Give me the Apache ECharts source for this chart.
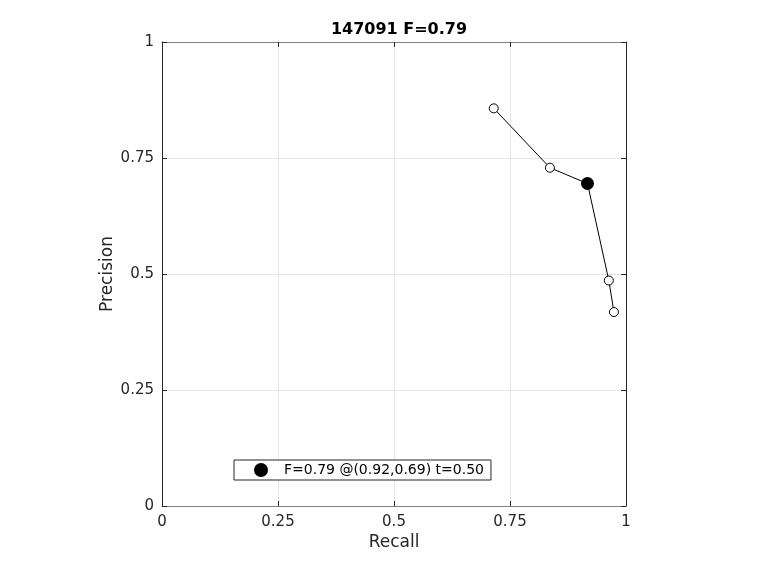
<!DOCTYPE html>
<html>
<head>
<meta charset="utf-8">
<script src="https://cdn.jsdelivr.net/npm/echarts@6/dist/echarts.min.js"></script>
<style>
  html, body { margin: 0; padding: 0; background: #fff; }
  #chart { width: 760px; height: 570px; }
</style>
</head>
<body>
<div id="chart"></div>
<script>
// PR curve points
const recall = [0.715, 0.836, 0.917, 0.963, 0.974];
const precision = [0.857, 0.729, 0.695, 0.486, 0.418];
// best F point
const bestPoint = [0.917, 0.695];
const bestLabel = "F=0.79 @(0.92,0.69) t=0.50";
const titleText = "147091 F=0.79";

const chart = echarts.init(document.getElementById("chart"));
const font = "DejaVu Sans";

const baseAxis = (pos, name, show) => ({
  type: "value",
  position: pos,
  min: 0,
  max: 1,
  interval: 0.25,
  name: show ? name : "",
  nameLocation: "middle",
  nameGap: pos === "left" ? 46 : 28,
  nameMoveOverlap: false,
  nameTextStyle: { fontFamily: font, fontSize: 17, color: "#262626" },
  axisLine: { show: true, onZero: false, lineStyle: { color: pos === "left" || pos === "right" ? "#262626" : "#808080", width: 1 } },
  axisTick: { show: true, inside: true, length: 5, lineStyle: { color: "#262626" } },
  axisLabel: {
    show: show,
    fontFamily: font,
    fontSize: 15,
    color: "#262626",
    margin: pos === "left" ? 8 : 9,
    formatter: (v) => String(v),
  },
  splitLine: { show: show, lineStyle: { color: "#e6e6e6", width: 1 } },
});

const option = {
  animation: false,
  backgroundColor: "#fff",
  title: {
    text: titleText,
    left: 394,
    top: 17,
    textAlign: "center",
    textStyle: { fontFamily: font, fontSize: 16, fontWeight: "bold", color: "#000" },
  },
  grid: { left: 162, right: 134, top: 42, bottom: 64 },
  xAxis: [baseAxis("bottom", "Recall", true), baseAxis("top", "", false)],
  yAxis: [baseAxis("left", "Precision", true), baseAxis("right", "", false)],
  legend: {
    left: 234,
    top: 460,
    orient: "horizontal",
    data: [{ name: bestLabel, icon: "circle" }],
    itemWidth: 14,
    itemHeight: 14,
    itemGap: 0,
    padding: [3, 7, 3, 20],
    backgroundColor: "#fff",
    borderColor: "#262626",
    borderWidth: 1,
    textStyle: { fontFamily: font, fontSize: 14, color: "#000", padding: [0, 0, 0, 11] },
    selectedMode: false,
  },
  series: [
    {
      type: "line",
      name: "curve",
      data: recall.map((r, i) => [r, precision[i]]),
      showSymbol: false,
      lineStyle: { color: "#000", width: 1 },
      z: 2,
    },
    {
      type: "scatter",
      name: "markers",
      data: recall.map((r, i) => [r, precision[i]]),
      symbol: "circle",
      symbolSize: 9,
      itemStyle: { color: "#fff", borderColor: "#000", borderWidth: 1, opacity: 1 },
      z: 3,
    },
    {
      type: "scatter",
      name: bestLabel,
      data: [bestPoint],
      symbol: "circle",
      symbolSize: 13,
      itemStyle: { color: "#000", opacity: 1 },
      z: 4,
    },
  ],
};

chart.setOption(option);
</script>
</body>
</html>
